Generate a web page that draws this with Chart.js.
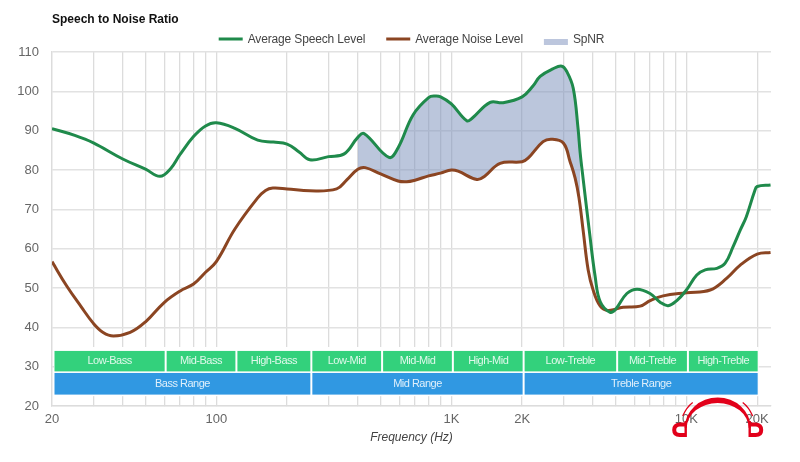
<!DOCTYPE html>
<html>
<head>
<meta charset="utf-8">
<title>Speech to Noise Ratio</title>
<script src="https://cdn.jsdelivr.net/npm/chart.js@4"></script>
<style>
body{margin:0;background:#fff;}
canvas{display:block;}
</style>
</head>
<body>
<canvas id="chart" width="800" height="462"></canvas>
<script>
// ---------------- DATA ----------------
const speechHz = [20,25,30,40,50,57.6,64,70,80,90,100,120,150,175,200,225,250,300,350,400,425,543,593,687,800,853,900,1000,1164,1222,1462,1660,2000,2228,2386,2700,2950,3100,3300,3460,3530,3640,3860,4090,4300,4740,5000,5580,6170,7000,7730,8360,9100,10000,11070,12020,13480,14620,15800,16940,18000,19500,20000,22800];
const speechDb = [90.5,88.8,86.9,82.8,80.2,78.4,80.4,83.9,88.5,91.2,92,90.6,87.6,87.1,86.6,84.6,82.6,83.4,84.1,88.3,89.3,83.2,85.6,94,98.4,98.8,98.6,96.8,92.5,93.1,97.2,97.1,98.6,101.4,103.8,105.7,106.4,105,100.8,90.5,84.5,77.5,64.7,52.9,46.5,43.8,44.6,48.6,49.7,48.6,46.4,45.5,46.8,49.5,53.3,54.6,55,56.3,60.5,64.7,68.2,74.6,75.8,76.2];
const noiseHz = [20,23.1,26.5,30,33,36.5,43,50,60,70,80,90,100,120,150,162,174,200,250,325,359,400,430,500,593,646,700,800,900,1000,1068,1284,1390,1612,2000,2120,2456,2684,3000,3200,3360,3490,3640,3820,4010,4300,4640,5380,6360,7010,7960,10000,12620,14860,16940,20000,22800];
const noiseDb = [56.7,50.5,45.4,41,38.7,37.8,38.7,41.4,46.3,49.2,51,54,56.7,65,72.9,74.8,75.4,75.2,74.7,75.2,77.5,80.2,80.6,79,77.2,77,77.4,78.5,79.2,80,79.7,77.6,78.5,81.7,82.1,83,87.2,87.8,86.8,82.1,78,73,64.4,54.6,49.5,45.4,44.3,45.1,45.4,46.8,48,48.8,49.5,52.5,55.8,58.6,59];

const spnrFromHz = 400;
const spnrToHz = 3530;

const gridHz = [20,30,40,50,60,70,80,90,100,200,300,400,500,600,700,800,900,1000,2000,3000,4000,5000,6000,7000,8000,9000,10000,20000];
const tickLabels = {20:'20',100:'100',1000:'1K',2000:'2K',10000:'10K',20000:'20K'};

const bandNames = ['Low-Bass','Mid-Bass','High-Bass','Low-Mid','Mid-Mid','High-Mid','Low-Treble','Mid-Treble','High-Treble'];
const bandEdges = [20,60,120,250,500,1000,2000,5000,10000,20000];
const rangeNames = ['Bass Range','Mid Range','Treble Range'];
const rangeEdges = [20,250,2000,20000];

const toPoints = (xs, ys) => xs.map((x, i) => ({x, y: ys[i]}));
const speechPoints = toPoints(speechHz, speechDb);
const noisePoints = toPoints(noiseHz, noiseDb);
const spnrPoints = speechPoints.filter(p => p.x >= spnrFromHz && p.x <= spnrToHz);

const FONT = '"Liberation Sans", Arial, sans-serif';

// ---------------- PLUGINS ----------------
// frequency range boxes under the curves
const rangeBoxes = {
    id: 'rangeBoxes',
    beforeDatasetsDraw(chart){
        const {ctx, scales:{x, y}} = chart;
        const row = (names, edges, top, bottom, color) => {
            names.forEach((name, i) => {
                const left = x.getPixelForValue(edges[i]) + 2.5;
                const right = x.getPixelForValue(edges[i+1]) + 0.5;
                ctx.fillStyle = color;
                ctx.fillRect(left, y.getPixelForValue(top), right-left, y.getPixelForValue(bottom)-y.getPixelForValue(top));
                ctx.fillStyle = 'rgba(255,255,255,0.85)';
                ctx.font = '11px ' + FONT;
                ctx.letterSpacing = '-0.5px';
                ctx.textAlign = 'center';
                ctx.textBaseline = 'middle';
                ctx.fillText(name, (left+right)/2, (y.getPixelForValue(top)+y.getPixelForValue(bottom))/2);
            });
        };
        ctx.save();
        ctx.fillStyle = '#fff';
        ctx.fillRect(54, y.getPixelForValue(35), x.getPixelForValue(20000)+1.5-54, y.getPixelForValue(22.5)-y.getPixelForValue(35));
        row(bandNames, bandEdges, 34, 28.8, '#33d17c');
        row(rangeNames, rangeEdges, 28.4, 22.9, '#3098e2');
        ctx.restore();
    }
};

// legend in one row, centred over the plot
const topLegend = {
    id: 'topLegend',
    afterDraw(chart){
        const {ctx, chartArea} = chart;
        const items = chart.data.datasets.map(d => ({label: d.label, color: d.legendColor, h: d.legendHeight, y: d.legendY}));
        ctx.save();
        ctx.font = '12px ' + FONT;
        ctx.letterSpacing = '-0.15px';
        ctx.textBaseline = 'middle';
        ctx.textAlign = 'left';
        const widths = items.map(it => 24 + 5 + ctx.measureText(it.label).width);
        const total = widths.reduce((a,b) => a+b, 0) + 21*(items.length-1);
        let px = (chartArea.left + chartArea.right)/2 - total/2;
        items.forEach((it, i) => {
            ctx.fillStyle = it.color;
            ctx.fillRect(px, it.y - it.h/2, 24, it.h);
            ctx.fillStyle = '#444';
            ctx.fillText(it.label, px + 29, 39.5);
            px += widths[i] + 21;
        });
        ctx.restore();
    }
};

// headphones logo, bottom right
const logo = {
    id: 'logo',
    afterDraw(chart){
        const ctx = chart.ctx;
        const cx = 717.7;
        ctx.save();
        ctx.fillStyle = '#e2001a';
        ctx.strokeStyle = '#e2001a';
        ctx.beginPath();
        ctx.ellipse(cx, 428, 33, 30.5, 0, Math.PI, 2*Math.PI);
        ctx.ellipse(cx, 428, 31, 25, 0, 2*Math.PI, Math.PI, true);
        ctx.closePath();
        ctx.fill();
        [1, -1].forEach(s => {
            ctx.lineWidth = 1.3;
            ctx.beginPath();
            ctx.moveTo(cx - s*25, 402.5);
            ctx.quadraticCurveTo(cx - s*31, 407, cx - s*35, 416);
            ctx.stroke();
            ctx.lineWidth = 4;
            ctx.beginPath();
            ctx.moveTo(cx - s*32, 424.5);
            ctx.lineTo(cx - s*38, 424.5);
            ctx.quadraticCurveTo(cx - s*43.5, 425, cx - s*43.5, 430);
            ctx.quadraticCurveTo(cx - s*43.5, 435, cx - s*38, 435);
            ctx.lineTo(cx - s*32, 435);
            ctx.stroke();
            ctx.lineWidth = 2.4;
            ctx.beginPath();
            ctx.moveTo(cx - s*32, 421);
            ctx.lineTo(cx - s*32, 437);
            ctx.stroke();
        });
        ctx.restore();
    }
};

// ---------------- CHART ----------------
new Chart(document.getElementById('chart').getContext('2d'), {
    type: 'scatter',
    data: {
        datasets: [
            {
                label: 'Average Speech Level',
                data: speechPoints,
                showLine: true,
                borderColor: '#1f8a4b',
                borderWidth: 3,
                pointRadius: 0,
                tension: 0.4,
                legendColor: '#1f8a4b',
                legendHeight: 3,
                legendY: 39
            },
            {
                label: 'Average Noise Level',
                data: noisePoints,
                showLine: true,
                borderColor: '#8b4522',
                borderWidth: 3,
                pointRadius: 0,
                tension: 0.4,
                legendColor: '#8b4522',
                legendHeight: 3,
                legendY: 39
            },
            {
                label: 'SpNR',
                data: spnrPoints,
                showLine: true,
                borderWidth: 0,
                borderColor: 'rgba(0,0,0,0)',
                backgroundColor: 'rgba(120,141,186,0.5)',
                pointRadius: 0,
                tension: 0.4,
                fill: {target: 1},
                legendColor: '#bcc6dd',
                legendHeight: 6,
                legendY: 42
            }
        ]
    },
    options: {
        responsive: false,
        animation: false,
        devicePixelRatio: 1,
        layout: {padding: {top: 12, right: 29, bottom: 13, left: 0}},
        plugins: {
            legend: {display: false},
            tooltip: {enabled: false},
            title: {
                display: true,
                text: 'Speech to Noise Ratio',
                align: 'start',
                fullSize: false,
                color: '#111',
                font: {family: FONT, size: 12, weight: 'bold'},
                padding: {top: 0, bottom: 25.6}
            }
        },
        scales: {
            x: {
                type: 'logarithmic',
                min: 20,
                max: 22900,
                afterBuildTicks(scale){ scale.ticks = gridHz.map(value => ({value})); },
                afterFit(scale){ scale.height = 43; },
                ticks: {
                    autoSkip: false,
                    maxRotation: 0,
                    padding: 6,
                    color: '#666',
                    font: {family: FONT, size: 13},
                    callback: value => tickLabels[value] || ''
                },
                grid: {color: '#dcdcdc', lineWidth: 1.3, tickLength: 0},
                border: {color: '#dcdcdc', width: 1.3},
                title: {
                    display: true,
                    text: 'Frequency (Hz)',
                    color: '#444',
                    font: {family: FONT, size: 12, style: 'italic'},
                    padding: {top: 0, bottom: 4}
                }
            },
            y: {
                min: 20,
                max: 110,
                afterFit(scale){ scale.width = 52; },
                ticks: {
                    stepSize: 10,
                    padding: 13,
                    color: '#666',
                    font: {family: FONT, size: 13}
                },
                grid: {color: '#e2e2e2', lineWidth: 1.5, tickLength: 0},
                border: {color: '#dcdcdc', width: 1.3}
            }
        }
    },
    plugins: [rangeBoxes, topLegend, logo]
});
</script>
</body>
</html>
